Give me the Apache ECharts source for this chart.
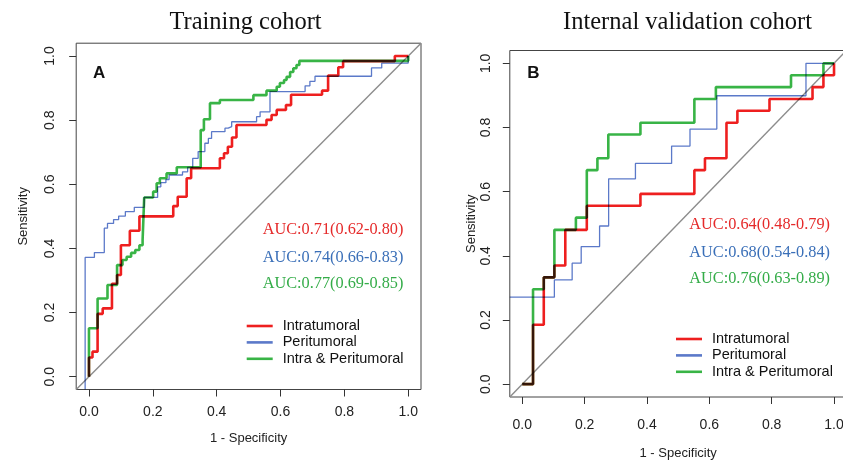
<!DOCTYPE html>
<html>
<head>
<meta charset="utf-8">
<script src="https://cdn.jsdelivr.net/npm/echarts@6/dist/echarts.min.js"></script>
<style>html,body{margin:0;padding:0;background:#fff}#c{width:843px;height:464px}</style>
</head>
<body>
<div id="c"></div>
<script>
// ---------- data (1 - specificity, sensitivity), step vertices ----------
const tickValues = [0, 0.2, 0.4, 0.6, 0.8, 1.0];
const seriesNames = ['Intratumoral', 'Peritumoral', 'Intra & Peritumoral'];
const panelTitles = ['Training cohort', 'Internal validation cohort'];
const panelLetters = ['A', 'B'];
const trainAUC = ['AUC:0.71(0.62-0.80)', 'AUC:0.74(0.66-0.83)', 'AUC:0.77(0.69-0.85)'];
const validAUC = ['AUC:0.64(0.48-0.79)', 'AUC:0.68(0.54-0.84)', 'AUC:0.76(0.63-0.89)'];

const trainRedX = [0, 0, 0.011, 0.027, 0.043, 0.072, 0.088, 0.100, 0.128, 0.158, 0.264, 0.278, 0.306, 0.320, 0.410, 0.423, 0.435, 0.448, 0.462, 0.556, 0.572, 0.588, 0.617, 0.633, 0.730, 0.749, 0.781, 0.796, 0.958, 1.0];
const trainRedY = [0, 0.060, 0.078, 0.196, 0.213, 0.290, 0.317, 0.410, 0.455, 0.500, 0.532, 0.561, 0.619, 0.650, 0.681, 0.697, 0.717, 0.746, 0.785, 0.801, 0.816, 0.832, 0.847, 0.879, 0.892, 0.939, 0.965, 0.984, 1.0, 1.0];

const trainBlueX = [-0.012, -0.012, 0.017, 0.048, 0.058, 0.077, 0.093, 0.114, 0.142, 0.173, 0.215, 0.225, 0.241, 0.251, 0.293, 0.309, 0.325, 0.342, 0.363, 0.374, 0.384, 0.426, 0.436, 0.447, 0.525, 0.536, 0.567, 0.677, 0.692, 0.708, 0.885, 0.917, 1.0];
const trainBlueY = [-0.04, 0.372, 0.387, 0.463, 0.478, 0.490, 0.501, 0.515, 0.528, 0.559, 0.592, 0.605, 0.615, 0.629, 0.639, 0.653, 0.681, 0.702, 0.728, 0.743, 0.764, 0.775, 0.780, 0.795, 0.811, 0.826, 0.889, 0.907, 0.921, 0.937, 0.963, 0.978, 1.0];

const trainGreenX = [0, 0, 0.027, 0.058, 0.088, 0.105, 0.118, 0.132, 0.145, 0.158, 0.168, 0.173, 0.201, 0.212, 0.222, 0.243, 0.275, 0.350, 0.360, 0.379, 0.410, 0.515, 0.556, 0.588, 0.598, 0.611, 0.619, 0.630, 0.640, 0.650, 0.659, 1.0];
const trainGreenY = [0, 0.151, 0.244, 0.286, 0.348, 0.364, 0.374, 0.386, 0.395, 0.410, 0.426, 0.559, 0.577, 0.603, 0.619, 0.634, 0.653, 0.769, 0.803, 0.853, 0.863, 0.878, 0.892, 0.904, 0.916, 0.925, 0.935, 0.950, 0.962, 0.972, 0.985, 1.0];

const validRedX = [0, 0.0345, 0.069, 0.103, 0.138, 0.207, 0.379, 0.552, 0.586, 0.655, 0.690, 0.793, 0.931, 0.966, 1.0];
const validRedY = [0, 0.185, 0.333, 0.370, 0.481, 0.556, 0.593, 0.667, 0.704, 0.815, 0.852, 0.889, 0.926, 0.963, 1.0];

const validBlueX = [-0.04, 0.103, 0.160, 0.189, 0.248, 0.277, 0.363, 0.479, 0.538, 0.624, 0.910, 1.0];
const validBlueY = [0.271, 0.325, 0.377, 0.429, 0.493, 0.640, 0.688, 0.742, 0.795, 0.899, 1.0, 1.0];

const validGreenX = [0, 0.0345, 0.069, 0.103, 0.172, 0.207, 0.241, 0.276, 0.379, 0.552, 0.621, 0.862, 0.966, 1.0];
const validGreenY = [0, 0.296, 0.333, 0.481, 0.519, 0.667, 0.704, 0.778, 0.815, 0.889, 0.926, 0.963, 1.0, 1.0];

const diagX = [-0.04, 1.04];
const diagY = [-0.04, 1.04];

// ---------- styling ----------
const colors = ['#ee1f1f', '#5b79c9', '#38b446'];
const aucColors = ['#e52a2a', '#3a6fb8', '#34ac48'];
const widths = [2.6, 1.3, 2.6];
const SANS = '"Liberation Sans", Arial, sans-serif';
const SERIF = '"Liberation Serif", "Times New Roman", serif';

const zip = (xs, ys) => xs.map((x, i) => [x, ys[i]]);

const grids = [
  { left: 76.2, top: 43.2, width: 344.8, height: 346.3 },
  { left: 509.8, top: 50.5, width: 336.7, height: 346.5 }
];
const xLabelMargin = [16, 21];
const xNameGap = [42, 50];
const yLabelMargin = [19, 17];
const yNameGap = [46, 32];

function xAxis(i) {
  return {
    gridIndex: i, type: 'value', min: -0.04, max: 1.04,
    axisLine: { show: false, onZero: false },
    splitLine: { show: false },
    axisTick: { show: true, inside: false, length: 7, lineStyle: { color: '#333', width: 1 }, customValues: tickValues },
    axisLabel: { customValues: tickValues, margin: xLabelMargin[i], fontSize: 14, fontFamily: SANS, color: '#222', formatter: v => v.toFixed(1), hideOverlap: false },
    name: '1 - Specificity', nameLocation: 'middle', nameGap: xNameGap[i], nameMoveOverlap: false,
    nameTextStyle: { fontSize: 13, fontFamily: SANS, color: '#222' }
  };
}
function yAxis(i) {
  return {
    gridIndex: i, type: 'value', min: -0.04, max: 1.04,
    axisLine: { show: false, onZero: false },
    splitLine: { show: false },
    axisTick: { show: true, inside: false, length: 7, lineStyle: { color: '#333', width: 1 }, customValues: tickValues },
    axisLabel: { customValues: tickValues, rotate: 90, margin: yLabelMargin[i], fontSize: 14, fontFamily: SANS, color: '#222', formatter: v => v.toFixed(1), hideOverlap: false },
    name: 'Sensitivity', nameLocation: 'middle', nameGap: yNameGap[i], nameRotate: 90, nameMoveOverlap: false,
    nameTextStyle: { fontSize: 13, fontFamily: SANS, color: '#222' }
  };
}

const curves = [
  [[trainRedX, trainRedY], [trainBlueX, trainBlueY], [trainGreenX, trainGreenY]],
  [[validRedX, validRedY], [validBlueX, validBlueY], [validGreenX, validGreenY]]
];

const series = [];
for (let p = 0; p < 2; p++) {
  series.push({
    type: 'line', xAxisIndex: p, yAxisIndex: p, name: 'diag' + p,
    data: zip(diagX, diagY), symbol: 'none', silent: true,
    lineStyle: { color: '#8c8c8c', width: 1.4 }, z: 1
  });
  for (let s = 0; s < 3; s++) {
    series.push({
      type: 'line', xAxisIndex: p, yAxisIndex: p, name: seriesNames[s],
      data: zip(curves[p][s][0], curves[p][s][1]), step: 'end', symbol: 'none',
      lineStyle: { color: colors[s], width: widths[s] }, itemStyle: { color: colors[s] },
      blendMode: 'multiply', animation: false, z: 2 + s
    });
  }
}

const graphics = [];
const aucPos = [[262.7, [230, 257.3, 283.3]], [689.3, [225, 252.3, 279]]];
[trainAUC, validAUC].forEach((arr, p) => {
  arr.forEach((t, s) => {
    graphics.push({ type: 'text', x: aucPos[p][0], y: aucPos[p][1][s],
      style: { text: t, fill: aucColors[s], font: '16.3px ' + SERIF, textVerticalAlign: 'middle', textAlign: 'left' } });
  });
});
const letterPos = [[99.2, 73], [533.5, 73]];
panelLetters.forEach((t, p) => {
  graphics.push({ type: 'text', x: letterPos[p][0], y: letterPos[p][1],
    style: { text: t, fill: '#111', font: 'bold 17px ' + SANS, textAlign: 'center', textVerticalAlign: 'middle' } });
});

const legendPos = [[246.7, 318.5], [676, 331.5]];
const legends = legendPos.map(pos => ({
  orient: 'vertical', left: pos[0], top: pos[1], padding: 0,
  itemWidth: 26, itemHeight: 2.6, itemGap: 1.4, icon: 'rect',
  data: seriesNames, selectedMode: false,
  textStyle: { fontSize: 14.5, lineHeight: 14, fontFamily: SANS, color: '#111', padding: [0, 0, 0, 5] }
}));

const chart = echarts.init(document.getElementById('c'), null, { renderer: 'canvas' });
chart.setOption({
  backgroundColor: '#ffffff',
  animation: false,
  title: [
    { text: panelTitles[0], left: 240.5, top: 5, textAlign: 'center', textStyle: { fontFamily: SERIF, fontWeight: 'normal', fontSize: 24.5, color: '#111' } },
    { text: panelTitles[1], left: 682.5, top: 5, textAlign: 'center', textStyle: { fontFamily: SERIF, fontWeight: 'normal', fontSize: 24.5, color: '#111' } }
  ],
  grid: grids.map(g => Object.assign({ show: true, borderColor: '#444', borderWidth: 1, backgroundColor: 'transparent', outerBoundsMode: 'none' }, g)),
  xAxis: [xAxis(0), xAxis(1)],
  yAxis: [yAxis(0), yAxis(1)],
  legend: legends,
  series: series,
  graphic: graphics
});
</script>
</body>
</html>
